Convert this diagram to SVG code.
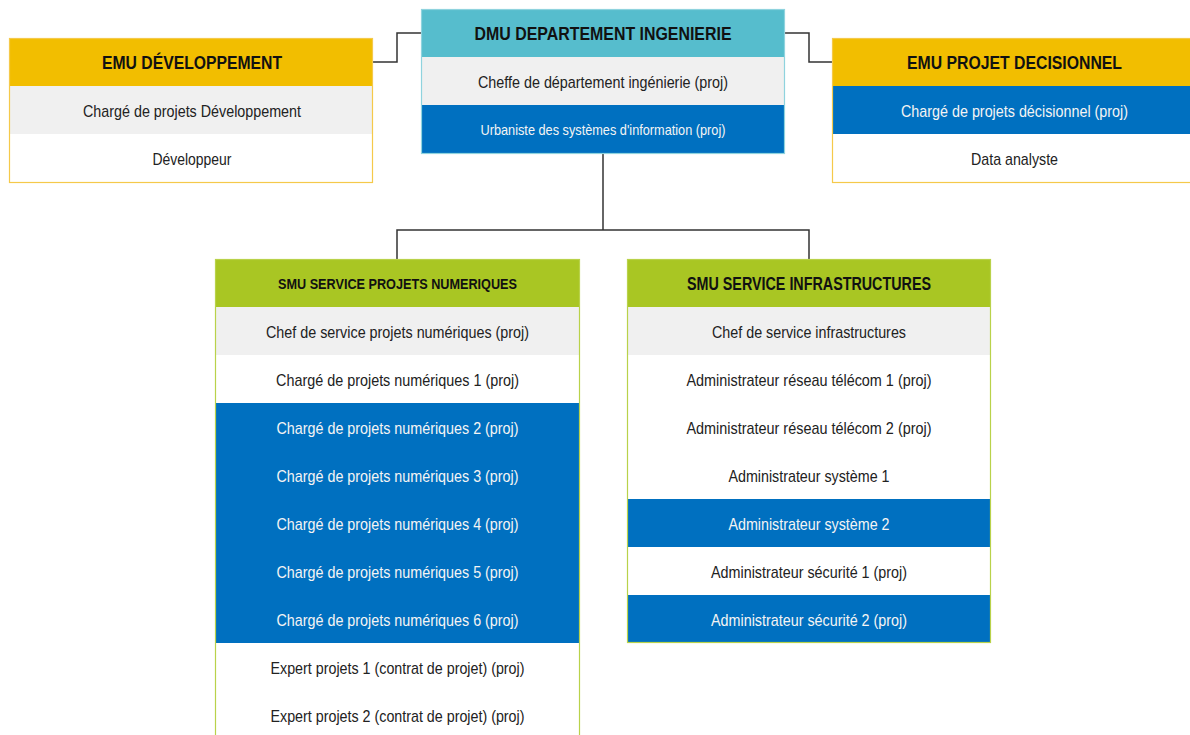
<svg xmlns="http://www.w3.org/2000/svg" width="1190" height="735" viewBox="0 0 1190 735">
<style>
text{font-family:"Liberation Sans",Arial,sans-serif;text-anchor:middle;}
.h{font-weight:bold;font-size:17.5px;fill:#111;}
.hs{font-weight:bold;font-size:15.5px;fill:#111;}
.n{font-size:17px;fill:#222;}
.w{font-size:17px;fill:#f4f4f4;}
.ws{font-size:15px;fill:#f4f4f4;}
.yel{fill:#F2BE00;}
.teal{fill:#56BDCD;}
.grn{fill:#A9C623;}
.blu{fill:#0070C0;}
.gry{fill:#F0F0F0;}
.wht{fill:#FFFFFF;}
.by{fill:none;stroke:#F5C94A;stroke-width:1.2;}
.bt{fill:none;stroke:#8FD3DE;stroke-width:1.2;}
.bg{fill:none;stroke:#B9D24A;stroke-width:1.2;}
.c{fill:none;stroke:#333;stroke-width:1.5;}
</style>
<rect width="1190" height="735" fill="#fff"/>
<g id="connectors">
<polyline class="c" points="421,33 397,33 397,62 373,62"/>
<polyline class="c" points="785,33 809,33 809,62 832,62"/>
<polyline class="c" points="603,154 603,230"/>
<polyline class="c" points="397,259 397,230 809,230 809,259"/>
</g>
<g id="emu-dev">
<rect class="yel" x="9" y="38" width="364" height="48"/>
<rect class="gry" x="9" y="86" width="364" height="48"/>
<rect class="wht" x="9" y="134" width="364" height="48"/>
<rect class="by" x="9.5" y="38.5" width="363" height="144"/>
<text class="h" x="192" y="69" textLength="180" lengthAdjust="spacingAndGlyphs">EMU DÉVELOPPEMENT</text>
<text class="n" x="192" y="116.5" textLength="218" lengthAdjust="spacingAndGlyphs">Chargé de projets Développement</text>
<text class="n" x="192" y="164.5" textLength="79" lengthAdjust="spacingAndGlyphs">Développeur</text>
</g>
<g id="dmu">
<rect class="teal" x="421" y="9" width="364" height="48"/>
<rect class="gry" x="421" y="57" width="364" height="48"/>
<rect class="blu" x="421" y="105" width="364" height="48"/>
<rect class="bt" x="421.5" y="9.5" width="363" height="144"/>
<text class="h" x="603" y="40" textLength="257" lengthAdjust="spacingAndGlyphs">DMU DEPARTEMENT INGENIERIE</text>
<text class="n" x="603" y="87.5" textLength="250" lengthAdjust="spacingAndGlyphs">Cheffe de département ingénierie (proj)</text>
<text class="ws" x="603" y="135" textLength="245" lengthAdjust="spacingAndGlyphs">Urbaniste des systèmes d'information (proj)</text>
</g>
<g id="emu-projet">
<rect class="yel" x="832" y="38" width="364" height="48"/>
<rect class="blu" x="832" y="86" width="364" height="48"/>
<rect class="wht" x="832" y="134" width="364" height="48"/>
<rect class="by" x="832.5" y="38.5" width="363" height="144"/>
<text class="h" x="1014.5" y="69" textLength="215" lengthAdjust="spacingAndGlyphs">EMU PROJET DECISIONNEL</text>
<text class="w" x="1014.5" y="116.5" textLength="227" lengthAdjust="spacingAndGlyphs">Chargé de projets décisionnel (proj)</text>
<text class="n" x="1014.5" y="164.5" textLength="87" lengthAdjust="spacingAndGlyphs">Data analyste</text>
</g>
<g id="smu-projets">
<rect class="grn" x="215" y="259" width="365" height="48"/>
<rect class="gry" x="215" y="307" width="365" height="48"/>
<rect class="wht" x="215" y="355" width="365" height="48"/>
<rect class="blu" x="215" y="403" width="365" height="240"/>
<rect class="wht" x="215" y="643" width="365" height="96"/>
<rect class="bg" x="215.5" y="259.5" width="364" height="490"/>
<text class="hs" x="397.5" y="288.5" textLength="239" lengthAdjust="spacingAndGlyphs">SMU SERVICE PROJETS NUMERIQUES</text>
<text class="n" x="397.5" y="337.5" textLength="263" lengthAdjust="spacingAndGlyphs">Chef de service projets numériques (proj)</text>
<text class="n" x="397.5" y="385.5" textLength="243" lengthAdjust="spacingAndGlyphs">Chargé de projets numériques 1 (proj)</text>
<text class="w" x="397.5" y="433.5" textLength="242" lengthAdjust="spacingAndGlyphs">Chargé de projets numériques 2 (proj)</text>
<text class="w" x="397.5" y="481.5" textLength="242" lengthAdjust="spacingAndGlyphs">Chargé de projets numériques 3 (proj)</text>
<text class="w" x="397.5" y="529.5" textLength="242" lengthAdjust="spacingAndGlyphs">Chargé de projets numériques 4 (proj)</text>
<text class="w" x="397.5" y="577.5" textLength="242" lengthAdjust="spacingAndGlyphs">Chargé de projets numériques 5 (proj)</text>
<text class="w" x="397.5" y="625.5" textLength="242" lengthAdjust="spacingAndGlyphs">Chargé de projets numériques 6 (proj)</text>
<text class="n" x="397.5" y="673.5" textLength="254" lengthAdjust="spacingAndGlyphs">Expert projets 1 (contrat de projet) (proj)</text>
<text class="n" x="397.5" y="721.5" textLength="254" lengthAdjust="spacingAndGlyphs">Expert projets 2 (contrat de projet) (proj)</text>
</g>
<g id="smu-infra">
<rect class="grn" x="627" y="259" width="364" height="48"/>
<rect class="gry" x="627" y="307" width="364" height="48"/>
<rect class="wht" x="627" y="355" width="364" height="144"/>
<rect class="blu" x="627" y="499" width="364" height="48"/>
<rect class="wht" x="627" y="547" width="364" height="48"/>
<rect class="blu" x="627" y="595" width="364" height="48"/>
<rect class="bg" x="627.5" y="259.5" width="363" height="383"/>
<text class="h" x="809" y="290" textLength="244" lengthAdjust="spacingAndGlyphs">SMU SERVICE INFRASTRUCTURES</text>
<text class="n" x="809" y="337.5" textLength="194" lengthAdjust="spacingAndGlyphs">Chef de service infrastructures</text>
<text class="n" x="809" y="385.5" textLength="245" lengthAdjust="spacingAndGlyphs">Administrateur réseau télécom 1 (proj)</text>
<text class="n" x="809" y="433.5" textLength="245" lengthAdjust="spacingAndGlyphs">Administrateur réseau télécom 2 (proj)</text>
<text class="n" x="809" y="481.5" textLength="161" lengthAdjust="spacingAndGlyphs">Administrateur système 1</text>
<text class="w" x="809" y="529.5" textLength="161" lengthAdjust="spacingAndGlyphs">Administrateur système 2</text>
<text class="n" x="809" y="577.5" textLength="196" lengthAdjust="spacingAndGlyphs">Administrateur sécurité 1 (proj)</text>
<text class="w" x="809" y="625.5" textLength="196" lengthAdjust="spacingAndGlyphs">Administrateur sécurité 2 (proj)</text>
</g>
</svg>
